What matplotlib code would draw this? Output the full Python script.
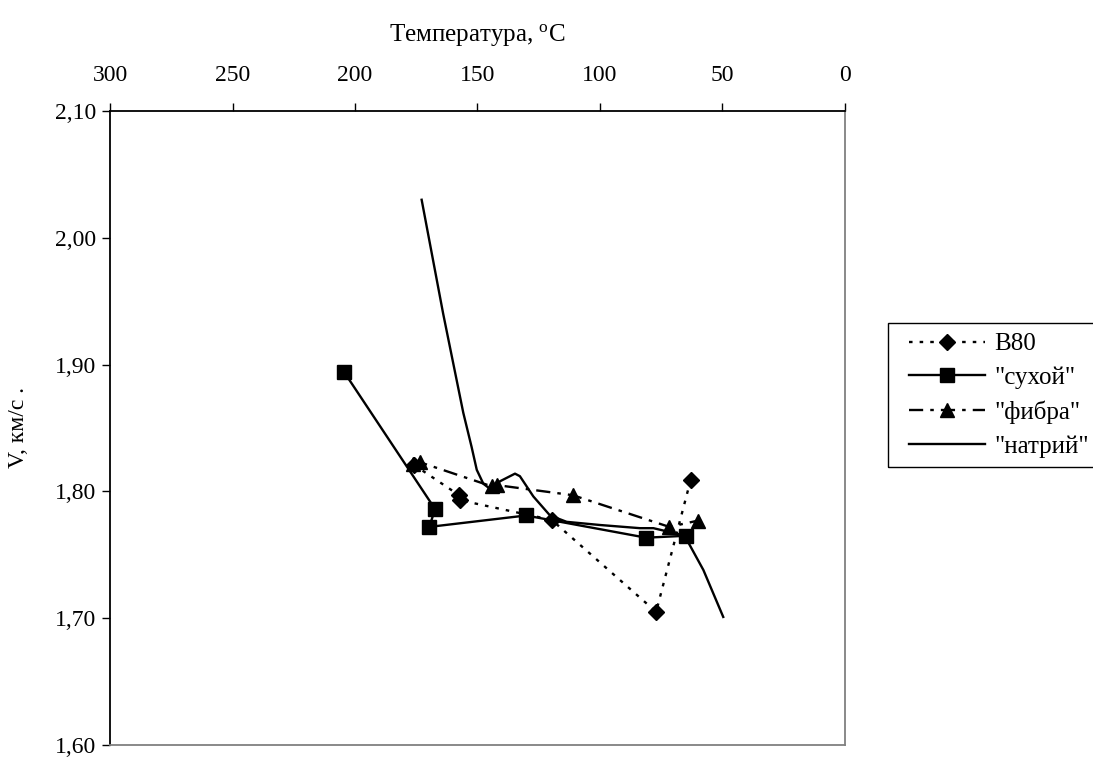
import numpy as np
import matplotlib
matplotlib.use('Agg')
import matplotlib.pyplot as plt
from matplotlib.patches import Rectangle

plt.rcParams['font.family'] = ['Liberation Serif', 'DejaVu Serif']

# values (temperature in C, velocity in km/s)
t_b80 = [176.0, 157.5, 157.0, 119.7, 77.1, 63.0]
v_b80 = [1.821, 1.797, 1.793, 1.7775, 1.705, 1.809]

t_dry = [204.4, 167.3, 169.7, 130.2, 81.2, 64.9]
v_dry = [1.894, 1.786, 1.772, 1.781, 1.7635, 1.765]

t_fib = [176.2, 173.5, 144.2, 142.2, 111.1, 71.7, 59.9]
v_fib = [1.822, 1.823, 1.804, 1.805, 1.797, 1.772, 1.777]

t_na = [172.8, 164.0, 155.8, 152.4, 150.3, 147.6, 144.2, 140.8, 134.7, 132.7,
        127.2, 120.4, 113.6, 100.0, 83.7, 78.2, 67.3, 64.6, 57.8, 49.7]
v_na = [2.030, 1.940, 1.862, 1.835, 1.817, 1.806, 1.801, 1.808, 1.814, 1.812,
        1.796, 1.781, 1.776, 1.7735, 1.771, 1.771, 1.766, 1.762, 1.738, 1.701]

labels = ['B80', '"сухой"', '"фибра"', '"натрий"']
x_ticks = [300, 250, 200, 150, 100, 50, 0]
y_ticks = [1.60, 1.70, 1.80, 1.90, 2.00, 2.10]

W, H = 1093, 757
fig = plt.figure(figsize=(W / 100, H / 100), dpi=100)
ax = fig.add_axes([110 / W, 12 / H, 735 / W, 634 / H])

ax.plot(t_b80, v_b80, color='black', lw=1.7, ls=(0, (1.5, 3)),
        marker='D', ms=8, label=labels[0])
ax.plot(t_dry, v_dry, color='black', lw=1.7, ls='-',
        marker='s', ms=10, label=labels[1])
ax.plot(t_fib, v_fib, color='black', lw=1.7, ls=(0, (6, 3, 1.5, 3)),
        marker='^', ms=10, label=labels[2])
ax.plot(t_na, v_na, color='black', lw=1.7, ls='-', label=labels[3])

ax.set_xlim(300, 0)
ax.set_ylim(1.60, 2.10)
ax.set_xticks(x_ticks)
ax.set_yticks(y_ticks)
ax.set_yticklabels([f'{v:.2f}'.replace('.', ',') for v in y_ticks])
ax.xaxis.tick_top()
ax.xaxis.set_label_position('top')
ax.tick_params(axis='x', direction='out', length=6, width=1, labelsize=17, pad=12)
ax.tick_params(axis='y', direction='out', length=6, width=1, labelsize=17, pad=4)

ax.spines['left'].set_color('black')
ax.spines['top'].set_color('black')
ax.spines['right'].set_color('#808080')
ax.spines['bottom'].set_color('#808080')
for s in ax.spines.values():
    s.set_linewidth(1.3)

ax.set_xlabel('Температура, $\\mathregular{^oC}$', fontsize=18)
ax.set_ylabel('V, км/с .', fontsize=17)
ax.xaxis.set_label_coords(0.5, 1.11)
ax.yaxis.set_label_coords(-0.11, 0.5)

# legend frame runs off the right edge in the reference
fig.patches.append(Rectangle((888 / W, 1 - 467 / H), 220 / W, 144 / H,
                             transform=fig.transFigure, fill=False,
                             edgecolor='black', lw=1.0))
fig.legend(loc='upper left', bbox_to_anchor=(909 / W, 1 - 333 / H),
           frameon=False, fontsize=18, handlelength=3.04, handletextpad=0.36,
           labelspacing=0.45, borderpad=0, borderaxespad=0)

fig.savefig('out.png', dpi=100)
